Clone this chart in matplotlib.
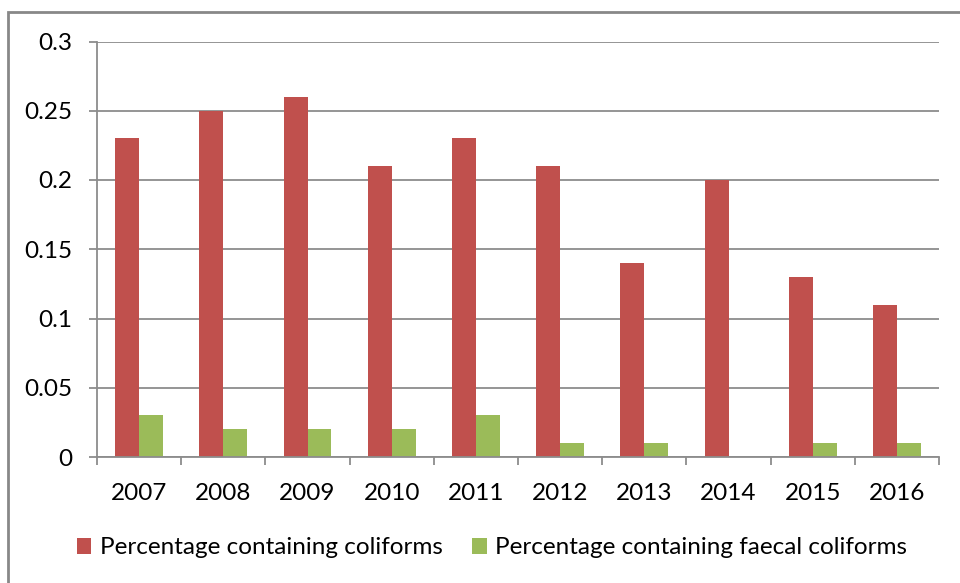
import matplotlib
matplotlib.use("Agg")
import matplotlib.pyplot as plt
from matplotlib.patches import Rectangle
import numpy as np

years = ["2007", "2008", "2009", "2010", "2011", "2012", "2013", "2014", "2015", "2016"]
coliforms = [0.23, 0.25, 0.26, 0.21, 0.23, 0.21, 0.14, 0.20, 0.13, 0.11]
faecal_coliforms = [0.03, 0.02, 0.02, 0.02, 0.03, 0.01, 0.01, 0.00, 0.01, 0.01]
y_ticks = [0, 0.05, 0.1, 0.15, 0.2, 0.25, 0.3]
y_tick_labels = ["0", "0.05", "0.1", "0.15", "0.2", "0.25", "0.3"]

RED = "#C0504D"
GREEN = "#9BBB59"
GRID = "#8C8C8C"
FS = 17.5

plt.rcParams["font.family"] = ["Lato", "DejaVu Sans"]
W, H = 960, 583
fig = plt.figure(figsize=(W / 100, H / 100), dpi=100)

# chart-area frame
fig.patches.append(Rectangle((8 / W, -0.1), 1.2, (H - 12) / H + 0.1,
                             transform=fig.transFigure, fill=False,
                             edgecolor="#888888", linewidth=2))

ax = fig.add_axes([97 / W, 126 / H, 842 / W, 415.5 / H])
x = np.arange(len(years))
bw = 0.285
ax.bar(x - bw / 2, coliforms, bw, color=RED, label="Percentage containing coliforms", zorder=3)
ax.bar(x + bw / 2, faecal_coliforms, bw, color=GREEN, label="Percentage containing faecal coliforms", zorder=3)

ax.set_xlim(-0.5, len(years) - 0.5)
ax.set_ylim(0, 0.3)
ax.set_yticks(y_ticks)
ax.set_yticklabels(y_tick_labels)
ax.set_xticks(x)
ax.set_xticklabels(years)
ax.set_xticks(np.arange(len(years) + 1) - 0.5, minor=True)

ax.yaxis.grid(True, color=GRID, linewidth=1.3, zorder=0)
ax.set_axisbelow(True)
for s in ["top", "right"]:
    ax.spines[s].set_visible(False)
for s in ["left", "bottom"]:
    ax.spines[s].set_color(GRID)
    ax.spines[s].set_linewidth(1.3)
    ax.spines[s].set_zorder(4)

ax.tick_params(axis="y", length=6, width=1.3, color=GRID, pad=12, labelsize=FS)
ax.tick_params(axis="x", which="major", length=0, pad=19, labelsize=FS)
ax.tick_params(axis="x", which="minor", length=6, width=1.3, color=GRID)

fig.legend(loc="center", bbox_to_anchor=(492 / W, 35 / H), ncol=2, frameon=False,
           fontsize=FS, handlelength=0.6, handleheight=0.6, handletextpad=0.35,
           columnspacing=1.2, borderpad=0)

fig.savefig("out.png", dpi=100)
